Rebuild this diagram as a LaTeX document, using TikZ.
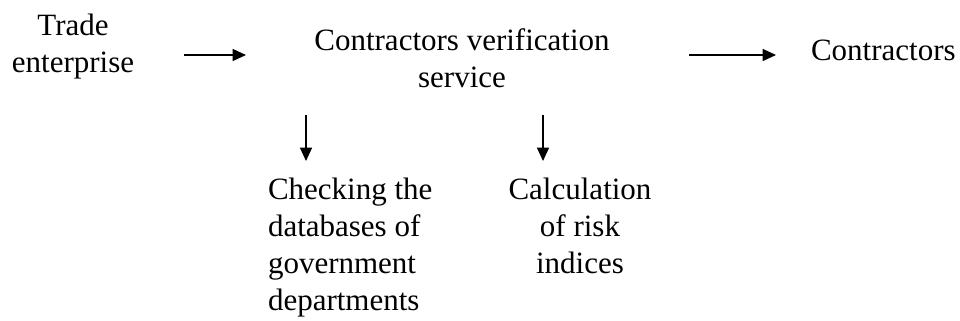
\documentclass[tikz,border=0pt]{standalone}
\usepackage{fontspec}
\setmainfont{Liberation Serif}
\usetikzlibrary{arrows.meta}
\begin{document}
\begin{tikzpicture}[x=0.75pt,y=-0.75pt,
  lbl/.style={inner sep=0pt,outer sep=0pt,font=\fontsize{23.25}{27.75}\selectfont},
  arr/.style={line width=0.9pt,-{Triangle[length=10pt,width=9pt]}}]
\useasboundingbox (0,0) rectangle (960,321);
\node[lbl,align=center,anchor=base] (trade) at (73,73) {Trade\\enterprise};
\node[lbl,align=center,anchor=base] (cvs) at (462,88) {Contractors verification\\service};
\node[lbl,anchor=base west] (contr) at (811,61) {Contractors};
\node[lbl,align=left,anchor=base west] (check) at (268,310) {Checking the\\databases of\\government\\departments};
\node[lbl,align=center,anchor=base] (calc) at (580,273) {Calculation\\of risk\\indices};
\coordinate (a1s) at (184,55); \coordinate (a1e) at (246,55);
\coordinate (a2s) at (689,55); \coordinate (a2e) at (776,55);
\coordinate (d1s) at (306,115); \coordinate (d1e) at (306,161);
\coordinate (d2s) at (543,115); \coordinate (d2e) at (543,161);
\draw[arr] (a1s) -- (a1e);
\draw[arr] (a2s) -- (a2e);
\draw[arr] (d1s) -- (d1e);
\draw[arr] (d2s) -- (d2e);
\end{tikzpicture}
\end{document}
